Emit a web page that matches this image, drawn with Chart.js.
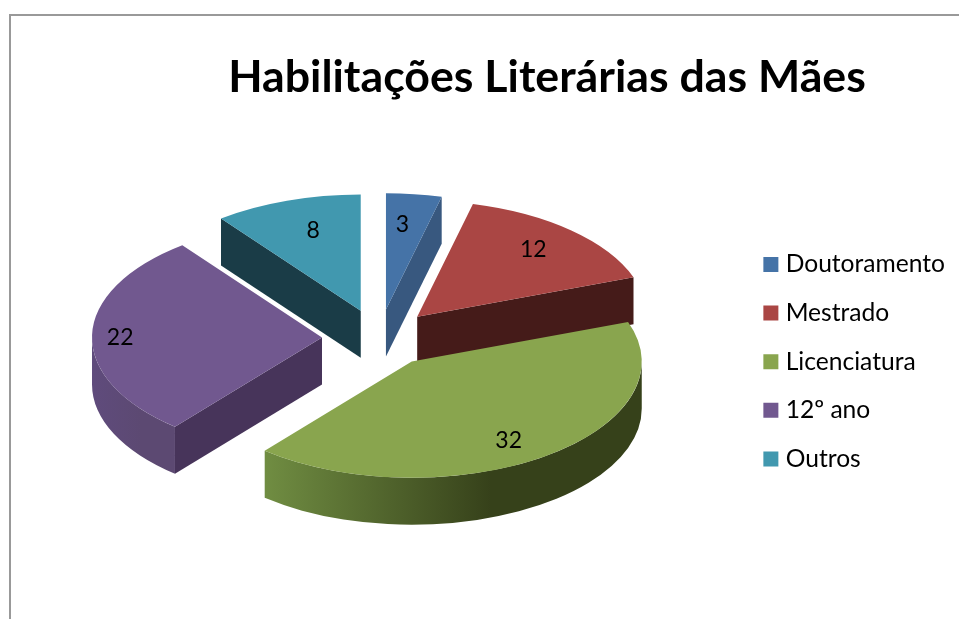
<!DOCTYPE html>
<html>
<head>
<meta charset="utf-8">
<script src="https://cdn.jsdelivr.net/npm/chart.js@4"></script>
<style>
  html, body { margin: 0; background: #fff; overflow: hidden; }
  #frame { position: absolute; left: 9px; top: 14px; right: 0; bottom: 0; border-left: 2px solid #999; border-top: 2px solid #999; }
  canvas { position: absolute; left: 0; top: 0; }
</style>
</head>
<body>
<div id="frame"></div>
<canvas id="myChart" width="959" height="619"></canvas>
<script>
const categories = ["Doutoramento", "Mestrado", "Licenciatura", "12º ano", "Outros"];
const values = [3, 12, 32, 22, 8];

const topColors = ["#4573a7", "#aa4644", "#89a54e", "#71588f", "#4198af"];
const wallColors = ["#38587f", "#451b19", "#38431b", "#47345a", "#1a3c47"];
const rimColors = [["#38587f", "#38587f"], ["#451b19", "#451b19"], ["#708d42", "#36411a"], ["#5f4b7c", "#5c4972"], ["#1a3c47", "#1a3c47"]];
const drawOrder = [4, 0, 1, 3, 2];

// where the squashed pie sits on the page
const centerX = 379, centerY = 338, squash = 0.505, depth = 47, explode = 57;
const labelFracX = [0.57, 0.75, 0.73, 0.88, 0.65];
const labelFracY = [0.75, 0.8, 0.81, 0.88, 0.75];

function wall(ctx, px, py, angle, r, color) {
  const ex = px + Math.cos(angle) * r;
  const ey = py + Math.sin(angle) * r * squash;
  ctx.fillStyle = color;
  ctx.beginPath();
  ctx.moveTo(px, py);
  ctx.lineTo(ex, ey);
  ctx.lineTo(ex, ey + depth);
  ctx.lineTo(px, py + depth);
  ctx.closePath();
  ctx.fill();
}

function rim(ctx, px, py, a0, a1, r, colors) {
  const left = px + Math.cos(a1) * r;
  const right = px + Math.cos(a0) * r;
  const grad = ctx.createLinearGradient(left, 0, right, 0);
  grad.addColorStop(0, colors[0]);
  grad.addColorStop(0.6, colors[1]);
  grad.addColorStop(1, colors[1]);
  ctx.fillStyle = grad;
  ctx.beginPath();
  ctx.ellipse(px, py, r, r * squash, 0, a0, a1);
  ctx.ellipse(px, py + depth, r, r * squash, 0, a1, a0, true);
  ctx.closePath();
  ctx.fill();
}

const pie3d = {
  id: "pie3d",
  beforeDatasetDraw(chart) {
    const ctx = chart.ctx;
    const arcs = chart.getDatasetMeta(0).data;
    drawOrder.forEach(function (i) {
      const arc = arcs[i];
      const mid = (arc.startAngle + arc.endAngle) / 2;
      const r = arc.outerRadius;
      const px = centerX + Math.cos(mid) * explode;
      const py = centerY + Math.sin(mid) * explode * squash;

      // only walls facing the viewer
      if (Math.cos(arc.startAngle) < -0.001) wall(ctx, px, py, arc.startAngle, r, wallColors[i]);
      if (Math.cos(arc.endAngle) > 0.001) wall(ctx, px, py, arc.endAngle, r, wallColors[i]);
      const a0 = Math.max(arc.startAngle, 0);
      const a1 = Math.min(arc.endAngle, Math.PI);
      if (a1 > a0) rim(ctx, px, py, a0, a1, r, rimColors[i]);

      ctx.save();
      ctx.translate(px, py);
      ctx.scale(1, squash);
      ctx.translate(-arc.x, -arc.y);
      arc.draw(ctx);
      ctx.restore();
    });
    return false;
  },
  afterDatasetsDraw(chart) {
    const ctx = chart.ctx;
    const arcs = chart.getDatasetMeta(0).data;
    ctx.save();
    ctx.font = "23px Lato";
    ctx.fillStyle = "#000";
    ctx.textAlign = "center";
    ctx.textBaseline = "middle";
    arcs.forEach(function (arc, i) {
      const mid = (arc.startAngle + arc.endAngle) / 2;
      const r = arc.outerRadius;
      const lx = centerX + Math.cos(mid) * (explode + r * labelFracX[i]);
      const ly = centerY + Math.sin(mid) * (explode + r * labelFracY[i]) * squash;
      ctx.fillText(values[i], lx + 0.5, ly + 2);
    });
    ctx.restore();
  }
};

new Chart("myChart", {
  type: "pie",
  data: {
    labels: categories,
    datasets: [
      {
        data: values,
        backgroundColor: topColors,
        borderWidth: 0,
        radius: 230,
      },
    ],
  },
  plugins: [pie3d],
  options: {
    responsive: false,
    animation: false,
    events: [],
    layout: { padding: { left: 139, right: 4, top: 0, bottom: 0 } },
    plugins: {
      tooltip: { enabled: false },
      title: {
        display: true,
        text: "Habilitações Literárias das Mães",
        color: "#000",
        font: { family: "Lato", size: 44.7, weight: "bold" },
        padding: { top: 51, bottom: 10 },
      },
      legend: {
        position: "right",
        // blank legend title pushes the entries down to the pie's level
        title: { display: true, text: " ", font: { size: 12 }, padding: 45 },
        labels: {
          color: "#000",
          font: { family: "Lato", size: 24.6 },
          usePointStyle: true,
          pointStyle: "rect",
          boxWidth: 5,
          boxHeight: 15,
          padding: 24,
        },
      },
    },
  },
});
</script>
</body>
</html>
